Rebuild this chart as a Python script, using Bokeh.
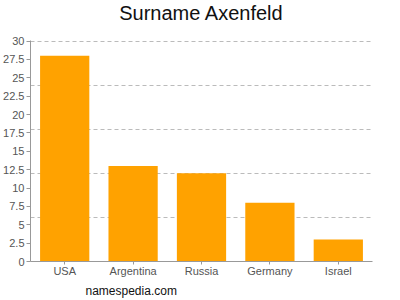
from bokeh.plotting import figure
from bokeh.models import FactorRange, Range1d, FixedTicker, CustomJSTickFormatter, Title
from bokeh.embed import file_html
from bokeh.resources import INLINE

countries = ["USA", "Argentina", "Russia", "Germany", "Israel"]
counts = [28, 13, 12, 8, 3]
y_ticks = [0, 2.5, 5, 7.5, 10, 12.5, 15, 17.5, 20, 22.5, 25, 27.5, 30]
grid_ticks = [6, 12, 18, 24, 30]

FONT = "Liberation Sans"

p = figure(width=400, height=300, x_range=FactorRange(*countries, range_padding=0),
           y_range=Range1d(0, 30.08), output_backend="svg", toolbar_location=None,
           min_border_left=28, min_border_right=28, min_border_top=40, min_border_bottom=39)
p.outline_line_color = None
p.background_fill_color = "white"
p.border_fill_color = "white"

p.vbar(x=countries, top=counts, width=0.72, color="#ffa200", line_color=None)

p.title.text = ""

# spacer between frame and the title (nearest the frame), then the title itself
spacer = Title(text=" ", text_font=FONT, text_font_size="1px", standoff=11)
p.add_layout(spacer, "above")
main_title = Title(text="Surname Axenfeld", align="center", vertical_align="top",
                   text_font=FONT, text_font_size="20px", text_font_style="normal",
                   text_color="#111111", standoff=2)
p.add_layout(main_title, "above")

foot = Title(text="namespedia.com", align="left", offset=55, text_font=FONT,
             text_font_size="12px", text_font_style="normal", text_color="#111111",
             standoff=5, vertical_align="bottom")
p.add_layout(foot, "below")

p.yaxis.ticker = FixedTicker(ticks=y_ticks)
p.yaxis.formatter = CustomJSTickFormatter(code="return tick.toString();")
p.ygrid.ticker = FixedTicker(ticks=grid_ticks)
p.ygrid.grid_line_color = "#bbbbbb"
p.ygrid.grid_line_dash = "4 3"
p.xgrid.grid_line_color = None

for ax in (p.xaxis, p.yaxis):
    ax.axis_line_color = "#999999"
    ax.major_tick_line_color = "#999999"
    ax.minor_tick_line_color = None
    ax.major_tick_in = 0
    ax.major_tick_out = 4
    ax.major_label_text_font = FONT
    ax.major_label_text_font_size = "11px"
    ax.major_label_text_color = "#555555"
    ax.major_label_standoff = 2

p.xaxis.major_tick_out = 3
p.xaxis.major_label_standoff = 0

open("out.html", "w").write(file_html(p, INLINE))
